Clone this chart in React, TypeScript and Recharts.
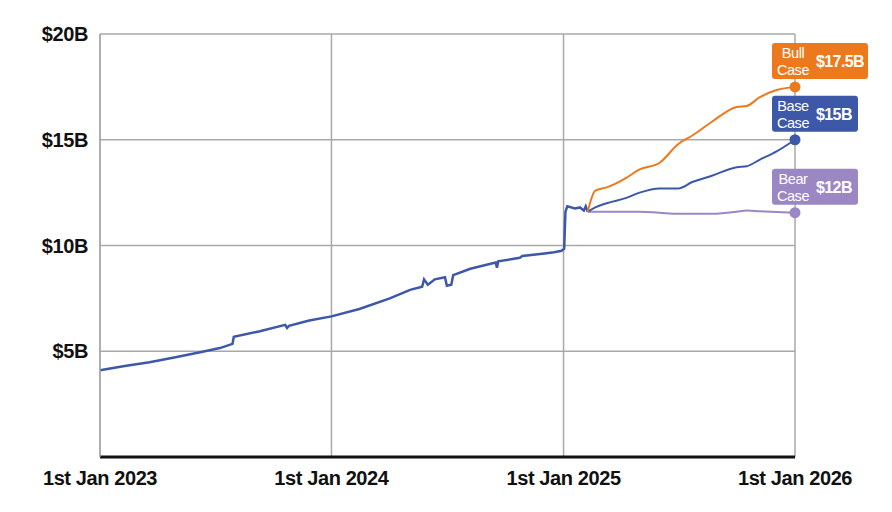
import { LineChart, Line, XAxis, YAxis, CartesianGrid } from 'recharts';

// actual revenue run-rate, $B
const actualDates = [
  '2023-01-01', '2023-02-09', '2023-03-20', '2023-04-28', '2023-06-08', '2023-07-09',
  '2023-07-29', '2023-07-31', '2023-09-10', '2023-10-20', '2023-10-23', '2023-10-26',
  '2023-11-27', '2024-01-01', '2024-02-14', '2024-04-02', '2024-05-04', '2024-05-23',
  '2024-05-26', '2024-06-01', '2024-06-12', '2024-06-28', '2024-07-01', '2024-07-08',
  '2024-07-11', '2024-08-07', '2024-09-16', '2024-09-18', '2024-09-20', '2024-10-24',
  '2024-10-28', '2024-12-02', '2024-12-17', '2024-12-29', '2025-01-02', '2025-01-04',
  '2025-01-07', '2025-01-19', '2025-01-27', '2025-02-02', '2025-02-05', '2025-02-08',
];
const actualValues = [
  4.1, 4.3, 4.48, 4.7, 4.95, 5.15,
  5.35, 5.68, 5.95, 6.25, 6.1, 6.2,
  6.45, 6.65, 7.0, 7.5, 7.9, 8.05,
  8.4, 8.15, 8.4, 8.5, 8.1, 8.15,
  8.6, 8.9, 9.2, 8.95, 9.25, 9.42,
  9.5, 9.62, 9.68, 9.75, 9.85, 11.6,
  11.85, 11.75, 11.8, 11.65, 11.85, 11.6,
];

// scenario projections
const projDates = [
  '2025-02-08', '2025-02-20', '2025-03-10', '2025-04-10', '2025-05-01', '2025-06-01', '2025-07-01',
  '2025-07-23', '2025-08-23', '2025-10-01', '2025-10-17', '2025-11-06', '2025-12-03', '2026-01-01',
];
const bullValues = [11.6, 12.6, 12.75, 13.2, 13.6, 13.9, 14.8, 15.2, 15.85, 16.55, 16.6, 17.0, 17.35, 17.5];
const baseValues = [11.6, 11.8, 12.0, 12.25, 12.5, 12.7, 12.7, 13.0, 13.3, 13.7, 13.75, 14.05, 14.45, 15.0];
const bearValues = [11.6, 11.6, 11.6, 11.6, 11.6, 11.55, 11.5, 11.5, 11.5, 11.6, 11.65, 11.62, 11.58, 11.55];

const scenarioNames = ['Bull', 'Base', 'Bear'];
const scenarioLabels = ['$17.5B', '$15B', '$12B'];

const xTickDates = ['2023-01-01', '2024-01-01', '2025-01-01', '2026-01-01'];
const xTickLabels = ['1st Jan 2023', '1st Jan 2024', '1st Jan 2025', '1st Jan 2026'];
const yTicks = [5, 10, 15, 20];

const ts = (d: string) => Date.parse(d + 'T00:00:00Z');

const rows = new Map<number, any>();
const put = (d: string, key: string, v: number) => {
  const t = ts(d);
  if (!rows.has(t)) rows.set(t, { date: t });
  rows.get(t)[key] = v;
};
actualDates.forEach((d, i) => put(d, 'actual', actualValues[i]));
projDates.forEach((d, i) => {
  put(d, 'bull', bullValues[i]);
  put(d, 'base', baseValues[i]);
  put(d, 'bear', bearValues[i]);
});
const data = Array.from(rows.values()).sort((a, b) => a.date - b.date);
const lastDate = ts(projDates[projDates.length - 1]);
const xTicks = xTickDates.map(ts);

const FONT = '"Liberation Sans", Arial, sans-serif';
const BLUE = '#3d58a8';
const ORANGE = '#ec7a1c';
const PURPLE = '#9b87c3';

const endMarker = (color: string, name: string, value: string, boxW: number) => (props: any) => {
  const { cx, cy, payload } = props;
  if (!payload || payload.date !== lastDate || cx == null) return <g key={'d' + (payload ? payload.date : props.index)} />;
  const bx = cx - 23;
  const by = cy - 44;
  return (
    <g key={'end-' + name}>
      <circle cx={cx} cy={cy} r={5.5} fill={color} />
      <rect x={bx} y={by} width={boxW} height={36} rx={3} fill={color} />
      <text x={bx + 21} y={by + 15} textAnchor="middle" fill="#fff" fontSize={14.5} fontFamily={FONT} letterSpacing={-0.4}>
        {name}
      </text>
      <text x={bx + 21} y={by + 32} textAnchor="middle" fill="#fff" fontSize={14.5} fontFamily={FONT} letterSpacing={-0.4}>
        Case
      </text>
      <text x={bx + 44} y={by + 24} fill="#fff" fontSize={16} fontWeight="bold" fontFamily={FONT} letterSpacing={-0.6}>
        {value}
      </text>
    </g>
  );
};

const App = () => {
  return (
    <div style={{ position: 'absolute', left: 0, top: 0, width: 892, height: 512, background: '#fff' }}>
      <LineChart width={892} height={512} data={data} margin={{ top: 34, right: 97, left: 0, bottom: 15 }}>
        <CartesianGrid stroke="#a9a9a9" strokeWidth={1.5} />
        <XAxis
          dataKey="date"
          type="number"
          domain={[xTicks[0], xTicks[xTicks.length - 1]]}
          ticks={xTicks}
          tickFormatter={(v: number) => xTickLabels[xTicks.indexOf(v)] ?? ''}
          height={40}
          axisLine={{ stroke: '#111', strokeWidth: 3 }}
          tickLine={false}
          tickMargin={8}
          tick={{ fill: '#111', fontSize: 20, fontWeight: 'bold', fontFamily: FONT, letterSpacing: -0.4 }}
          interval={0}
        />
        <YAxis
          domain={[0, 20]}
          ticks={yTicks}
          tickFormatter={(v: number) => `$${v}B`}
          width={100}
          axisLine={{ stroke: '#a9a9a9', strokeWidth: 1.5 }}
          tickLine={false}
          tickMargin={6}
          tick={{ fill: '#111', fontSize: 20, fontWeight: 'bold', fontFamily: FONT, letterSpacing: -0.4 }}
          interval={0}
        />
        <Line type="linear" dataKey="actual" stroke={BLUE} strokeWidth={2.5} dot={false} isAnimationActive={false} />
        <Line type="monotone" dataKey="bear" stroke={PURPLE} strokeWidth={2} dot={endMarker(PURPLE, scenarioNames[2], scenarioLabels[2], 86)} activeDot={false} isAnimationActive={false} />
        <Line type="monotone" dataKey="base" stroke={BLUE} strokeWidth={2} dot={endMarker(BLUE, scenarioNames[1], scenarioLabels[1], 86)} activeDot={false} isAnimationActive={false} />
        <Line type="monotone" dataKey="bull" stroke={ORANGE} strokeWidth={2} dot={endMarker(ORANGE, scenarioNames[0], scenarioLabels[0], 96)} activeDot={false} isAnimationActive={false} />
      </LineChart>
    </div>
  );
};

export default App;
